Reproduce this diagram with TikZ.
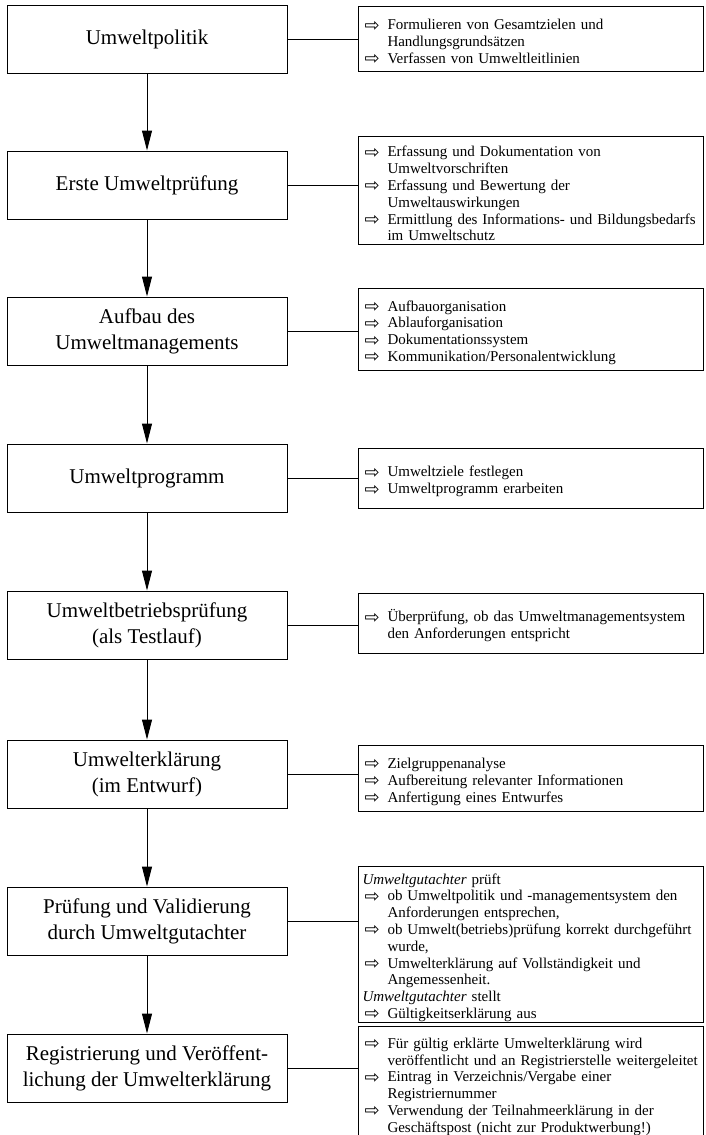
\documentclass[tikz,border=0pt]{standalone}
\usepackage{fontspec}
\setmainfont{Liberation Serif}
\newfontfamily\symfont{DejaVu Sans}
\usetikzlibrary{arrows.meta}
\hfuzz=30pt
\hbadness=10000
\newcommand{\arr}{\raisebox{-1.5pt}{\symfont\fontsize{18}{15}\selectfont ⇨}}
\newcommand{\itm}[1]{\par\hangindent=25pt\hangafter=1\noindent\hspace*{2pt}\makebox[23pt][l]{\arr}\mbox{#1}}
\newcommand{\itmm}[2]{\itm{#1}\newline\mbox{#2}}
\newcommand{\hd}[1]{\par\hangindent=0pt\noindent\mbox{#1}}
\tikzset{
  lbox/.style={draw, line width=1pt, minimum width=280pt, minimum height=68pt,
    align=center, inner sep=0pt, font=\fontsize{21}{26}\selectfont},
  rbox/.style={draw, line width=1pt, anchor=north west, text width=337pt,
    inner xsep=4pt, inner ysep=0pt, font=\fontsize{15}{16.8}\selectfont\raggedright},
  conn/.style={line width=1pt},
  flow/.style={line width=1pt, -{Triangle[length=20pt,width=10pt]}}
}
\begin{document}
\begin{tikzpicture}[x=1pt,y=-1pt]
\useasboundingbox (0,0) rectangle (705,1135);
% left column
\node[lbox] (b1) at (147,39) {Umweltpolitik};
\node[lbox] (b2) at (147,185) {Erste Umweltprüfung};
\node[lbox] (b3) at (147,331) {Aufbau des\\Umweltmanagements};
\node[lbox] (b4) at (147,478) {Umweltprogramm};
\node[lbox] (b5) at (147,625) {Umweltbetriebsprüfung\\(als Testlauf)};
\node[lbox] (b6) at (147,774) {Umwelterklärung\\(im Entwurf)};
\node[lbox] (b7) at (147,921) {Prüfung und Validierung\\durch Umweltgutachter};
\node[lbox] (b8) at (147,1068) {Registrierung und Veröffent-\\lichung der Umwelterklärung};
% right column
\node[rbox, minimum height=65pt] (r1) at (358,6) {%
\itmm{Formulieren von Gesamtzielen und}{Handlungsgrundsätzen}
\itm{Verfassen von Umweltleitlinien}\par};
\node[rbox, minimum height=108pt] (r2) at (358,136) {%
\itmm{Erfassung und Dokumentation von}{Umweltvorschriften}
\itmm{Erfassung und Bewertung der}{Umweltauswirkungen}
\itmm{Ermittlung des Informations- und Bildungsbedarfs}{im Umweltschutz}\par};
\node[rbox, minimum height=82pt] (r3) at (358,288) {%
\itm{Aufbauorganisation}
\itm{Ablauforganisation}
\itm{Dokumentationssystem}
\itm{Kommunikation/Personalentwicklung}\par};
\node[rbox, minimum height=60pt] (r4) at (358,448) {%
\itm{Umweltziele festlegen}
\itm{Umweltprogramm erarbeiten}\par};
\node[rbox, minimum height=60pt] (r5) at (358,593) {%
\itmm{Überprüfung, ob das Umweltmanagementsystem}{den Anforderungen entspricht}\par};
\node[rbox, minimum height=66pt] (r6) at (358,745) {%
\itm{Zielgruppenanalyse}
\itm{Aufbereitung relevanter Informationen}
\itm{Anfertigung eines Entwurfes}\par};
\node[rbox, minimum height=156pt] (r7) at (358,866) {%
\hd{\textit{Umweltgutachter} prüft}
\itmm{ob Umweltpolitik und -managementsystem den}{Anforderungen entsprechen,}
\itmm{ob Umwelt(betriebs)prüfung korrekt durchgeführt}{wurde,}
\itmm{Umwelterklärung auf Vollständigkeit und}{Angemessenheit.}
\hd{\textit{Umweltgutachter} stellt}
\itm{Gültigkeitserklärung aus}\par};
\node[rbox, minimum height=114pt] (r8) at (358,1026) {%
\itmm{Für gültig erklärte Umwelterklärung wird}{veröffentlicht und an Registrierstelle weitergeleitet}
\itmm{Eintrag in Verzeichnis/Vergabe einer}{Registriernummer}
\itmm{Verwendung der Teilnahmeerklärung in der}{Geschäftspost (nicht zur Produktwerbung!)}\par};
% connectors
\foreach \i in {1,...,8}{
  \draw[conn] (b\i.east) -- (b\i.east -| r\i.west);
}
\foreach \i/\j in {1/2,2/3,3/4,4/5,5/6,6/7,7/8}{
  \draw[flow] (b\i.south) -- (b\j.north);
}
\end{tikzpicture}
\end{document}
